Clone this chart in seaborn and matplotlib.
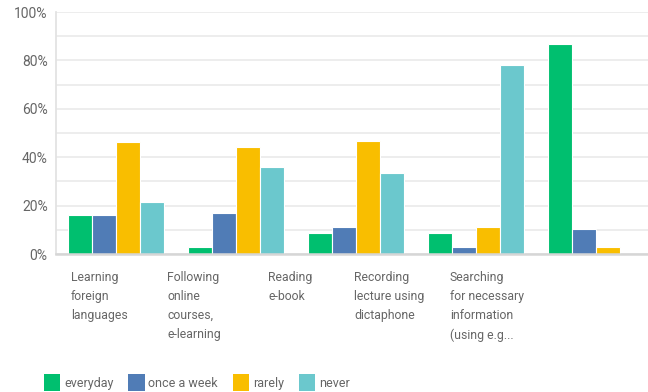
import matplotlib
matplotlib.use("Agg")
import matplotlib.pyplot as plt
from matplotlib.patches import Patch
import seaborn as sns
import pandas as pd

activities = [
    "Learning\nforeign\nlanguages",
    "Following\nonline\ncourses,\ne-learning",
    "Reading\ne-book",
    "Recording\nlecture using\ndictaphone",
    "Searching\nfor necessary\ninformation\n(using e.g...",
]
frequencies = ["everyday", "once a week", "rarely", "never"]

everyday = [16.3, 2.9, 8.5, 8.5, 86.9]
once_a_week = [16.3, 17.0, 11.2, 2.9, 10.5]
rarely = [46.1, 44.2, 46.7, 11.2, 2.9]
never = [21.3, 36.0, 33.3, 78.0, 0.0]

ytick_values = [0, 20, 40, 60, 80, 100]

colors = ["#00BF6F", "#507CB6", "#F9BE00", "#6BC8CD"]

rows = []
for freq, vals in zip(frequencies, [everyday, once_a_week, rarely, never]):
    for act, v in zip(activities, vals):
        rows.append({"activity": act, "frequency": freq, "share": v})
df = pd.DataFrame(rows)

sns.set_style("white")
plt.rcParams["font.family"] = ["Roboto", "DejaVu Sans"]

fig = plt.figure(figsize=(6.48, 3.92), dpi=100)
ax = fig.add_axes([56 / 648, (392 - 254) / 392, 600 / 648, 242 / 392])

sns.barplot(
    data=df, x="activity", y="share", hue="frequency",
    order=activities, hue_order=frequencies, palette=colors, saturation=1,
    width=0.8, edgecolor="white", linewidth=0.8, ax=ax, legend=False,
)

ax.set_xlim(-0.5, 4.5)
ax.set_ylim(0, 100)
ax.set_yticks(range(0, 101, 10))
ax.set_yticklabels([f"{v}%" if v in ytick_values else "" for v in range(0, 101, 10)],
                   fontsize=10, color="#666666")
ax.tick_params(axis="y", length=0, pad=6)
ax.yaxis.grid(True, color="#ececec", linewidth=1.3)
ax.set_axisbelow(True)

# category labels, left-aligned beneath each group
label_x = [-0.375, 0.425, 1.267, 1.983, 2.783]
ax.set_xticks([])
for x, txt in zip(label_x, activities):
    ax.text(x, -7, txt, ha="left", va="top", fontsize=8.8, color="#666666",
            linespacing=1.6, transform=ax.transData)

ax.set_xlabel("")
ax.set_ylabel("")
for side in ["top", "right"]:
    ax.spines[side].set_visible(False)
ax.spines["left"].set_color("#e3e3e3")
ax.spines["left"].set_linewidth(1.3)
ax.spines["bottom"].set_color("#d6d6d6")
ax.spines["bottom"].set_linewidth(1.8)

handles = [Patch(facecolor=c, edgecolor="none") for c in colors]
fig.legend(handles, frequencies, loc="lower left",
           bbox_to_anchor=(44 / 648, 1 / 392), ncol=4, frameon=False,
           fontsize=9, labelcolor="#666666", handlelength=1.3,
           handleheight=1.7, handletextpad=0.3, columnspacing=1.2,
           borderpad=0, borderaxespad=0)

fig.savefig("out.png", dpi=100)
